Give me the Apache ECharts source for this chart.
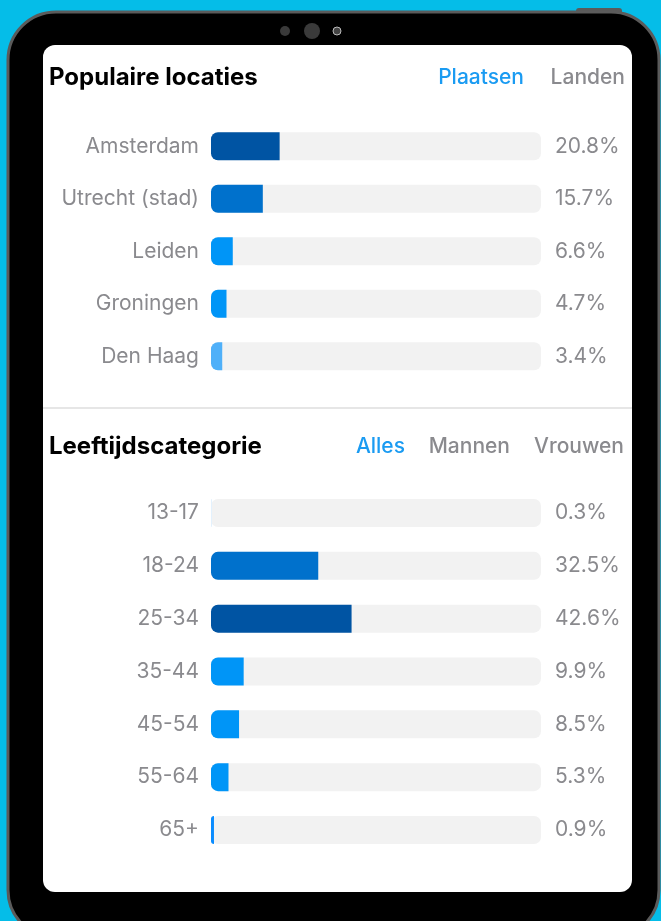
<!DOCTYPE html>
<html>
<head>
<meta charset="utf-8">
<script src="https://cdn.jsdelivr.net/npm/echarts@6/dist/echarts.min.js"></script>
<style>
  html, body { margin: 0; padding: 0; background: #05bde8; }
  #chart { width: 661px; height: 921px; }
</style>
</head>
<body>
<div id="chart"></div>
<script>
// data
const locaties = ["Amsterdam", "Utrecht (stad)", "Leiden", "Groningen", "Den Haag"];
const locatieWaarden = [20.8, 15.7, 6.6, 4.7, 3.4];

const leeftijden = ["13-17", "18-24", "25-34", "35-44", "45-54", "55-64", "65+"];
const leeftijdWaarden = [0.3, 32.5, 42.6, 9.9, 8.5, 5.3, 0.9];

// bar colours (by row)
const locatieKleuren = ["#0054a3", "#0071cc", "#0095f7", "#0095f7", "#4fb0f9"];
const leeftijdKleuren = ["#e3f1fd", "#0071cc", "#0054a3", "#0095f7", "#0095f7", "#0095f7", "#0a8cff"];

const FONT = "Inter, 'Noto Sans', sans-serif";
const grey = "#8a8a8e";
const blue = "#1a9bf2";

const chart = echarts.init(document.getElementById("chart"));

const pct = (v) => v.toFixed(1) + "%";

function bars(idx, values, colors) {
  return {
    type: "bar",
    xAxisIndex: idx,
    yAxisIndex: idx * 2,
    data: values,
    barWidth: 28,
    showBackground: true,
    backgroundStyle: { color: "#f2f2f2", borderRadius: 7 },
    itemStyle: {
      borderRadius: [7, 0, 0, 7],
      color: (p) => colors[p.dataIndex],
    },
    silent: true,
  };
}

function catAxis(idx, data) {
  return {
    type: "category",
    gridIndex: idx,
    data: data,
    inverse: true,
    axisLine: { show: false },
    axisTick: { show: false },
    axisLabel: { color: grey, fontSize: 21, fontFamily: FONT, margin: 12 },
  };
}

function valAxis(idx, values) {
  return {
    type: "category",
    gridIndex: idx,
    position: "right",
    data: values.map(pct),
    inverse: true,
    axisLine: { show: false },
    axisTick: { show: false },
    axisLabel: { color: grey, fontSize: 21, fontFamily: FONT, margin: 14 },
  };
}

function headerText(x, y, text, color, weight, size, align) {
  return {
    type: "text",
    x: x,
    y: y,
    style: {
      text: text,
      fill: color,
      font: weight + " " + size + "px " + FONT,
      textAlign: align,
      textVerticalAlign: "middle",
    },
  };
}

const option = {
  animation: false,
  backgroundColor: "#05bde8",
  grid: [
    { left: 211, width: 330, top: 120, height: 262.5 },
    { left: 211, width: 330, top: 486.6, height: 369.8 },
  ],
  xAxis: [
    { type: "value", gridIndex: 0, min: 0, max: 100, show: false },
    { type: "value", gridIndex: 1, min: 0, max: 100, show: false },
  ],
  yAxis: [
    catAxis(0, locaties),
    valAxis(0, locatieWaarden),
    catAxis(1, leeftijden),
    valAxis(1, leeftijdWaarden),
  ],
  series: [
    bars(0, locatieWaarden, locatieKleuren),
    bars(1, leeftijdWaarden, leeftijdKleuren),
  ],
  graphic: [
    // top button
    {
      type: "rect",
      z: -11,
      shape: { x: 576, y: 8, width: 46, height: 8, r: 3 },
      style: { fill: "#5b5b5b" },
    },
    // tablet body
    {
      type: "rect",
      z: -10,
      shape: { x: 8, y: 12, width: 651, height: 926, r: 48 },
      style: { fill: "#000", stroke: "#5b5b5b", lineWidth: 3 },
    },
    // camera
    { type: "circle", z: -9, shape: { cx: 285, cy: 31, r: 5 }, style: { fill: "#3a3a3a" } },
    { type: "circle", z: -9, shape: { cx: 312, cy: 31, r: 8 }, style: { fill: "#3a3a3a" } },
    { type: "circle", z: -9, shape: { cx: 337, cy: 31, r: 4 }, style: { fill: "#444", stroke: "#bbb", lineWidth: 1 } },
    // screen
    {
      type: "rect",
      z: -8,
      shape: { x: 43, y: 45, width: 589, height: 847, r: 12 },
      style: { fill: "#fff" },
    },
    // divider
    {
      type: "line",
      z: -7,
      shape: { x1: 43, y1: 408, x2: 632, y2: 408 },
      style: { stroke: "#e6e6e6", lineWidth: 2 },
    },
    headerText(49, 78, "Populaire locaties", "#000", "bold", 24, "left"),
    headerText(524, 78, "Plaatsen", blue, "500", 21, "right"),
    headerText(625, 78, "Landen", grey, "500", 21, "right"),
    headerText(49, 447, "Leeftijdscategorie", "#000", "bold", 24, "left"),
    headerText(405, 447, "Alles", blue, "500", 21, "right"),
    headerText(510, 447, "Mannen", grey, "500", 21, "right"),
    headerText(624, 447, "Vrouwen", grey, "500", 21, "right"),
  ],
};

chart.setOption(option);
</script>
</body>
</html>
